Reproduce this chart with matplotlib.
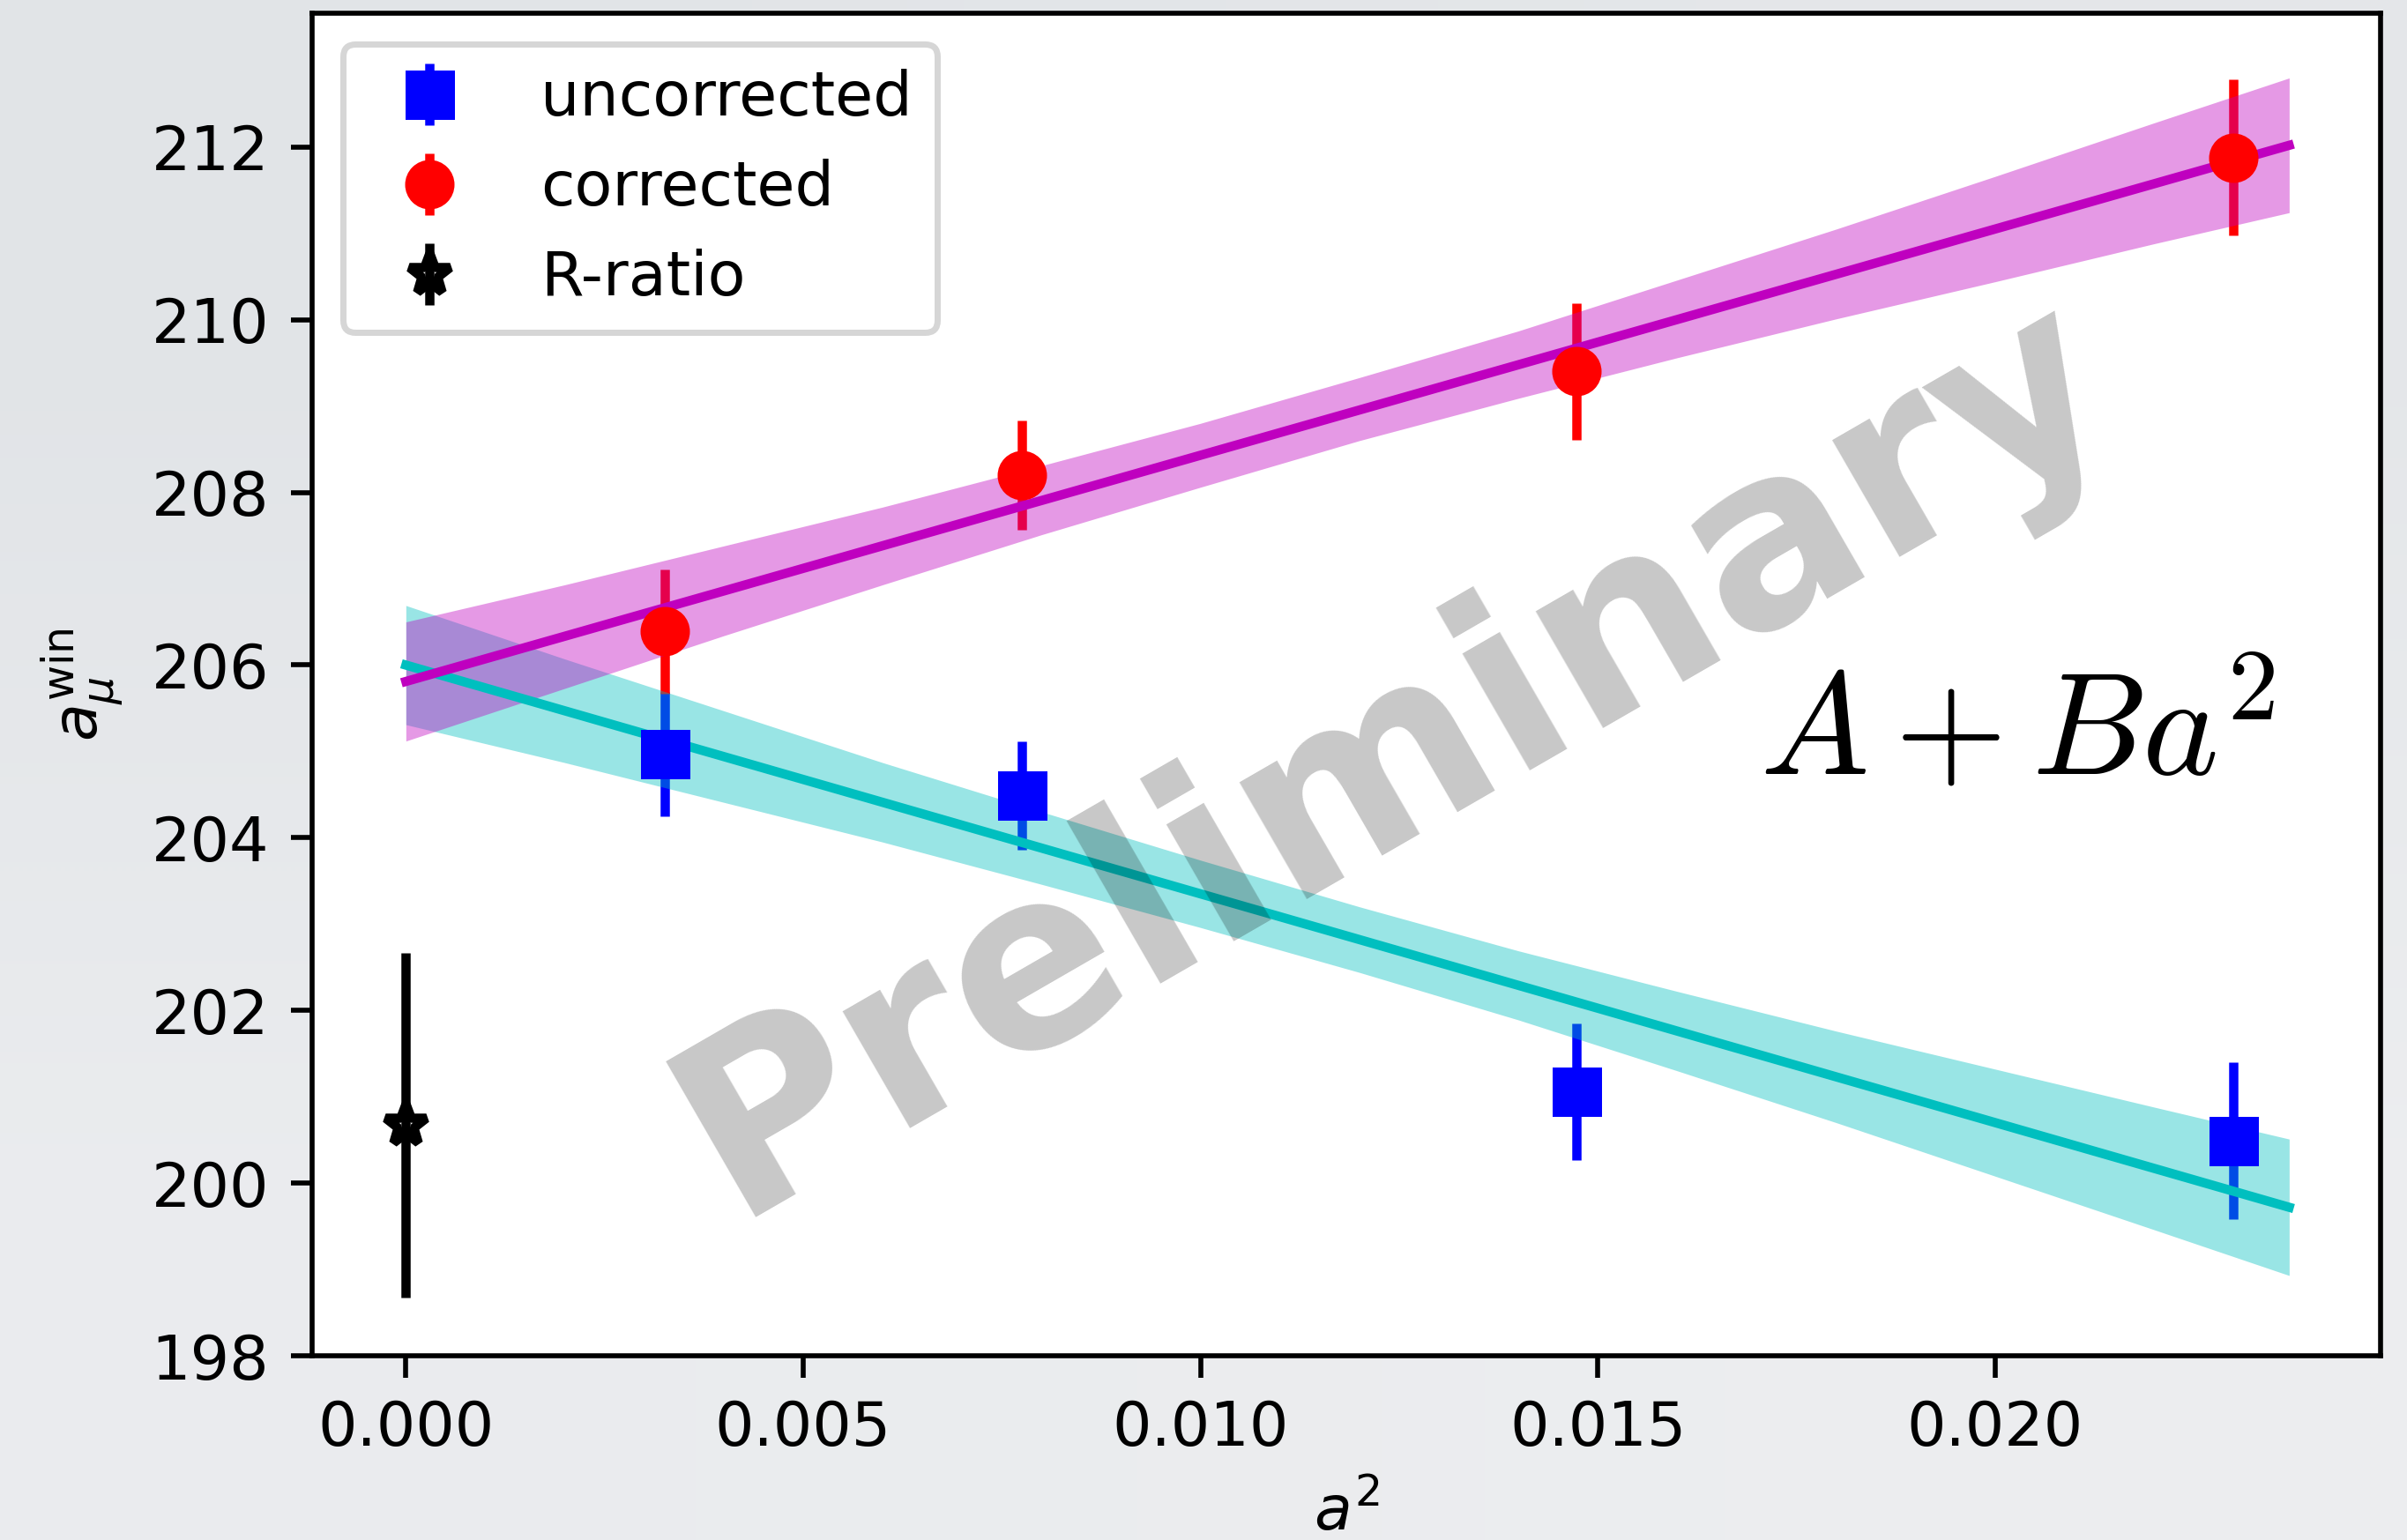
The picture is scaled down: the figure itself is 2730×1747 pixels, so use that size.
import numpy as np
import matplotlib
matplotlib.use('Agg')
import matplotlib.pyplot as plt

# a^2 of the ensembles
a2 = [0.00326, 0.00775, 0.01473, 0.02300]

# window observable, uncorrected / corrected
unc = [204.97, 204.49, 201.06, 200.49]
unc_err = [0.72, 0.63, 0.79, 0.905]
cor = [206.39, 208.20, 209.40, 211.88]
cor_err = [0.72, 0.63, 0.79, 0.905]

# R-ratio value (continuum)
rr_x = [0.0]
rr = [200.67]
rr_err = [2.0]

# fits A + B a^2
fit_x = [0.0, 0.0237]
fit_cor = [205.81, 212.02]
fit_unc = [206.00, 199.72]

# error bands of the fits
band_x = [0.0, 0.002, 0.004, 0.006, 0.008, 0.010, 0.012,
          0.014, 0.016, 0.018, 0.020, 0.022, 0.0237]
band_cor_hi = [206.50, 206.93, 207.38, 207.83, 208.31, 208.80, 209.33,
               209.87, 210.46, 211.05, 211.66, 212.28, 212.80]
band_cor_lo = [205.12, 205.73, 206.34, 206.93, 207.51, 208.06, 208.60,
               209.09, 209.56, 210.01, 210.44, 210.88, 211.24]
band_unc_hi = [206.69, 206.07, 205.47, 204.87, 204.30, 203.74, 203.20,
               202.69, 202.22, 201.76, 201.32, 200.88, 200.51]
band_unc_lo = [205.31, 204.87, 204.41, 203.95, 203.46, 202.96, 202.44,
               201.89, 201.30, 200.70, 200.08, 199.46, 198.93]

W, H, DPI = 2730, 1747, 504
fig = plt.figure(figsize=(W / DPI, H / DPI), dpi=DPI)

# slide background
bg = fig.add_axes([0, 0, 1, 1], zorder=-1)
grad = np.array([[[0.885, 0.895, 0.908], [0.895, 0.905, 0.915]],
                 [[0.918, 0.925, 0.934], [0.926, 0.931, 0.939]]])
bg.imshow(grad, aspect='auto', interpolation='bilinear', extent=[0, 1, 0, 1])
bg.axis('off')

ax = fig.add_axes([354 / W, 1 - 1538 / H, (2700 - 354) / W, (1538 - 15) / H])
ax.set_facecolor('white')

e1 = ax.errorbar(a2, unc, yerr=unc_err, fmt='s', color='b', ms=7, label='uncorrected', zorder=3)
e2 = ax.errorbar(a2, cor, yerr=cor_err, fmt='o', color='r', ms=7, label='corrected', zorder=3)
e3 = ax.errorbar(rr_x, rr, yerr=rr_err, fmt='*', color='k', mfc='none', ms=7, mew=1.5,
                 label='R-ratio', zorder=3)
for e in (e1, e2, e3):
    for c in e[2]:
        c.set_zorder(0.5)

ax.fill_between(band_x, band_unc_lo, band_unc_hi, color='c', alpha=0.4, lw=0, zorder=1)
ax.fill_between(band_x, band_cor_lo, band_cor_hi, color='m', alpha=0.4, lw=0, zorder=1)
ax.plot(fit_x, fit_unc, color='c', lw=1.5, zorder=2)
ax.plot(fit_x, fit_cor, color='m', lw=1.5, zorder=2)

ax.set_xlim(-0.00118, 0.02485)
ax.set_ylim(198.0, 213.55)
ax.set_xlabel(r'$a^2$')
ax.set_ylabel(r'$a_\mu^{\rm win}$')

ax.text(0.70, 0.433, r'$A+Ba^2$', transform=ax.transAxes, fontsize=23.5,
        math_fontfamily='cm', ha='left', va='baseline', zorder=4)
ax.text(0.5395, 0.402, 'Preliminary', transform=ax.transAxes, fontsize=40,
        fontweight='bold', color='k', alpha=0.22, rotation=30,
        rotation_mode='anchor', ha='center', va='baseline', zorder=5)

ax.legend(loc='upper left')

fig.savefig('out.png', dpi=DPI)
